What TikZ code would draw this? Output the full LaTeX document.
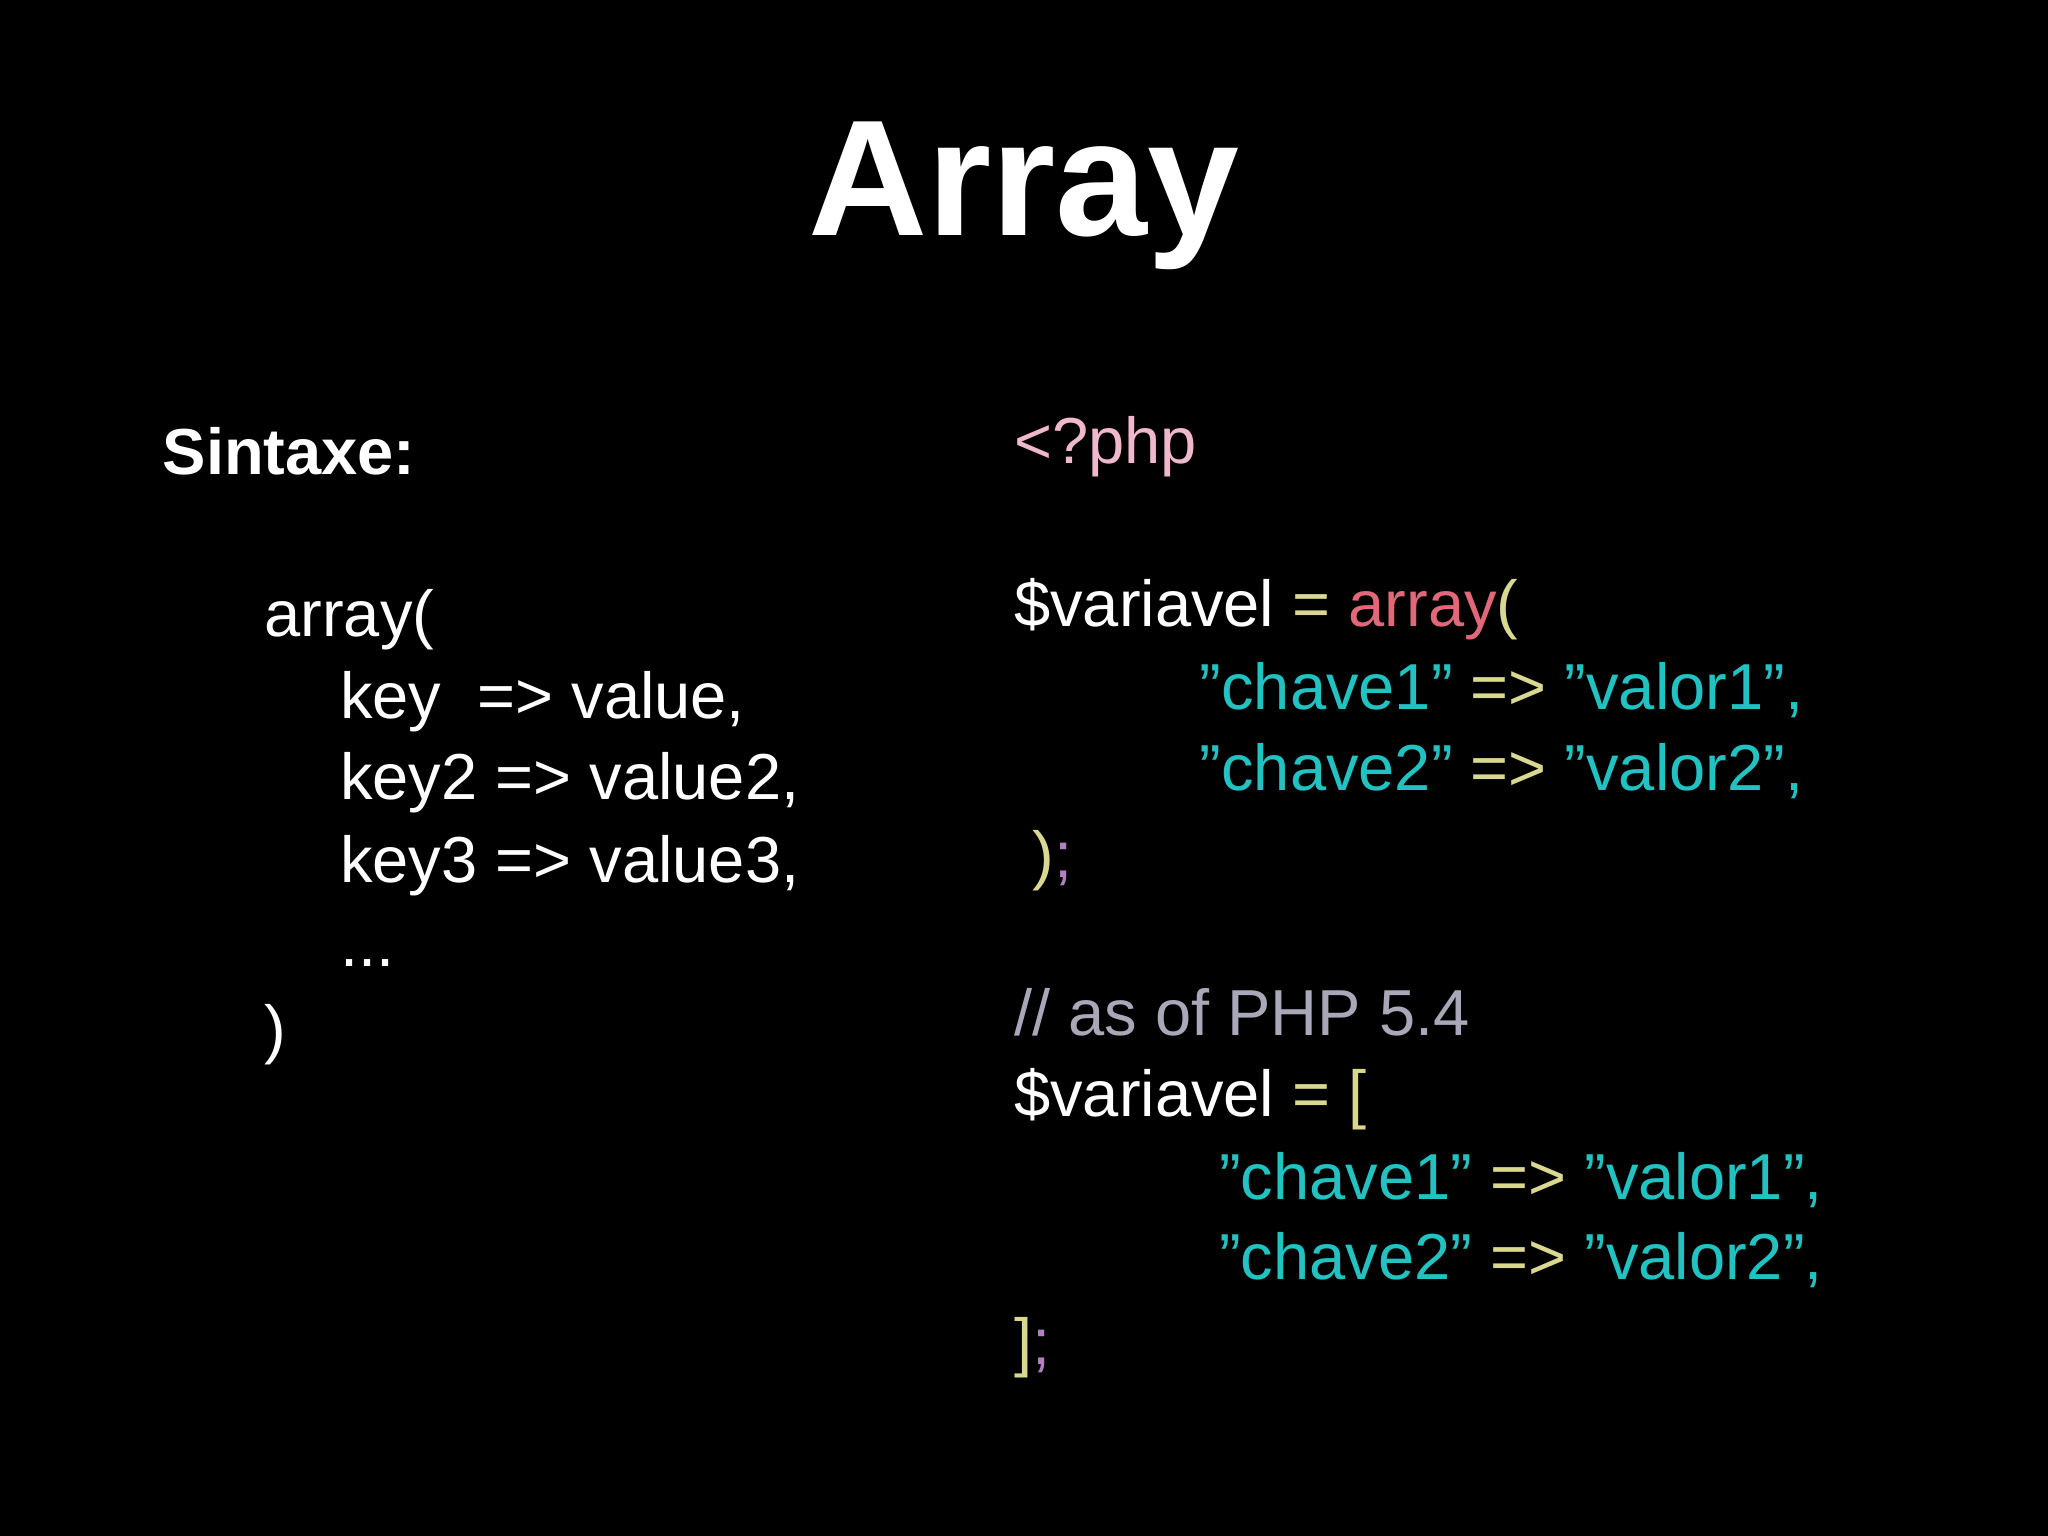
\documentclass[tikz,border=0pt]{standalone}
\usepackage{fontspec}
\setmainfont{Liberation Sans}
\definecolor{pk}{HTML}{F0B8CC}
\definecolor{yl}{HTML}{D8D890}
\definecolor{rd}{HTML}{E06878}
\definecolor{cy}{HTML}{22C2C2}
\definecolor{pu}{HTML}{B080C0}
\definecolor{gy}{HTML}{A8A8B8}
\begin{document}
\begin{tikzpicture}[x=0.01306cm,y=-0.01306cm,
  txt/.style={anchor=base west,inner sep=0pt,text=white,font=\fontsize{18.5}{20}\selectfont}]
\fill[black] (0,0) rectangle (1568,1176);
\useasboundingbox (0,0) rectangle (1568,1176);
\node[anchor=base,inner sep=0pt,text=white,font=\fontsize{47}{50}\selectfont\bfseries] (title) at (784,180) {Array};
\node[txt,font=\fontsize{18.5}{20}\selectfont\bfseries] (sx) at (124,363) {Sintaxe:};
\node[txt] (a1) at (202,487) {array(};
\node[txt] (a2) at (260,550) {key\ \ => value,};
\node[txt] (a3) at (260,612) {key2 => value2,};
\node[txt] (a4) at (260,676) {key3 => value3,};
\node[txt] (a5) at (260,740) {...};
\node[txt] (a6) at (202,805) {)};
\node[txt,text=pk] (p0) at (776,355) {<?php};
\node[txt] (p1) at (776,480) {\$variavel \textcolor{yl}{=} \textcolor{rd}{array}\textcolor{yl}{(}};
\node[txt,text=cy] (p2) at (918,543) {"chave1" \textcolor{yl}{=>} "valor1",};
\node[txt,text=cy] (p3) at (918,605) {"chave2" \textcolor{yl}{=>} "valor2",};
\node[txt,text=pu] (p4) at (790,672) {\textcolor{yl}{)};};
\node[txt,text=gy] (c0) at (776,793) {// as of PHP 5.4};
\node[txt] (q1) at (776,855) {\$variavel \textcolor{yl}{= [}};
\node[txt,text=cy] (q2) at (933,918) {"chave1" \textcolor{yl}{=>} "valor1",};
\node[txt,text=cy] (q3) at (933,980) {"chave2" \textcolor{yl}{=>} "valor2",};
\node[txt,text=pu] (q4) at (776,1045) {\textcolor{yl}{]};};
\end{tikzpicture}
\end{document}
